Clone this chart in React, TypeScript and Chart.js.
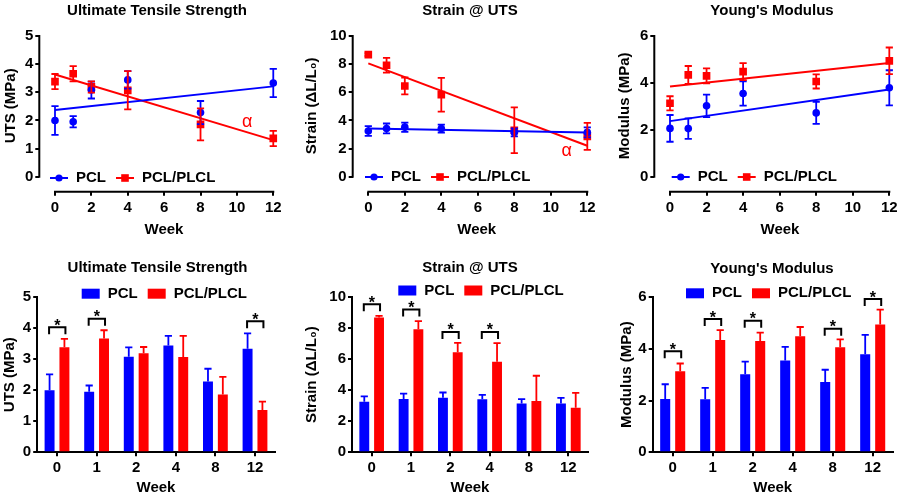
import React, { useEffect, useRef } from 'react';
import { Chart, registerables } from 'chart.js';

Chart.register(...registerables);

const FONT = "'Liberation Sans', Arial, Helvetica, sans-serif";
const BLUE = '#0000ff';
const RED = '#ff0000';

// ---------- data ----------
const weeks = [0, 1, 2, 4, 8, 12];
const weekLabels = ['0', '1', '2', '4', '8', '12'];
const weekTicks = [0, 2, 4, 6, 8, 10, 12];
const fitWeeks = [0, 12];
const seriesNames = ['PCL', 'PCL/PLCL'];

const utsTicks = [0, 1, 2, 3, 4, 5];
const utsPCL = [2.0, 1.95, 3.08, 3.44, 2.28, 3.33];
const utsPCLErr = [0.51, 0.2, 0.3, 0.31, 0.41, 0.5];
const utsBlend = [3.38, 3.66, 3.19, 3.07, 1.86, 1.36];
const utsBlendErr = [0.27, 0.27, 0.2, 0.68, 0.57, 0.27];
const utsFitPCL = [2.37, 3.21];
const utsFitBlend = [3.63, 1.3];
const utsSigIdx = [0, 1, 5];
const utsSigY = [4.03, 4.3, 4.22];

const strainTicks = [0, 2, 4, 6, 8, 10];
const strainPCL = [3.25, 3.43, 3.52, 3.42, 3.15, 3.15];
const strainPCLErr = [0.35, 0.35, 0.33, 0.28, 0.28, 0.35];
const strainBlend = [8.68, 7.92, 6.45, 5.83, 3.3, 2.87];
const strainBlendErr = [0.1, 0.53, 0.6, 1.2, 1.63, 0.96];
const strainFitPCL = [3.42, 3.15];
const strainFitBlend = [8.05, 2.2];
const strainSigIdx = [0, 1, 2, 3];
const strainSigY = [9.53, 9.19, 7.75, 7.75];

const modTicks = [0, 2, 4, 6];
const modPCL = [2.06, 2.05, 3.02, 3.55, 2.72, 3.79];
const modPCLErr = [0.57, 0.44, 0.48, 0.52, 0.47, 0.75];
const modBlend = [3.13, 4.34, 4.3, 4.48, 4.06, 4.94];
const modBlendErr = [0.3, 0.38, 0.32, 0.36, 0.3, 0.57];
const modFitPCL = [2.37, 3.72];
const modFitBlend = [3.85, 4.85];
const modSigIdx = [0, 1, 4, 5, 2];
const modSigY = [3.9, 5.15, 4.77, 5.92, 5.08];

// ---------- panels ----------
type Panel = {
  kind: 'line' | 'bar';
  cx: number; cy: number; w: number; h: number;
  pb: number; yw: number; rw: number; xh: number; ytp: number; ttp: number; ttb: number;
  xMin?: number; xMax?: number; yMin: number; yMax: number;
  title: string; yTitle: string; yTicks: number[];
  pcl: number[]; pclErr: number[]; blend: number[]; blendErr: number[];
  fitPCL?: number[]; fitBlend?: number[];
  sigIdx?: number[]; sigY?: number[];
  alpha?: { x: number; y: number };
  legX: number; legY: number;
};

const panels: Panel[] = [
  {
    kind: 'line', cx: 0, cy: 0, w: 314, h: 250, pb: 11, yw: 39.3, rw: 25.3, xh: 47.3, ytp: 2, ttp: 2, ttb: 0,
    xMin: -0.863, xMax: 12.848, yMin: -0.533, yMax: 5.569,
    title: 'Ultimate Tensile Strength', yTitle: 'UTS (MPa)', yTicks: utsTicks,
    pcl: utsPCL, pclErr: utsPCLErr, blend: utsBlend, blendErr: utsBlendErr,
    fitPCL: utsFitPCL, fitBlend: utsFitBlend, alpha: { x: 10.56, y: 1.94 },
    legX: 50, legY: 178,
  },
  {
    kind: 'line', cx: 300, cy: 0, w: 340, h: 250, pb: 11, yw: 52.7, rw: 39.3, xh: 47.3, ytp: 2.7, ttp: 2, ttb: 0,
    xMin: -0.855, xMax: 12.734, yMin: -1.066, yMax: 11.137,
    title: 'Strain @ UTS', yTitle: 'Strain (\u0394L/L\u2080)', yTicks: strainTicks,
    pcl: strainPCL, pclErr: strainPCLErr, blend: strainBlend, blendErr: strainBlendErr,
    fitPCL: strainFitPCL, fitBlend: strainFitBlend, alpha: { x: 10.87, y: 1.85 },
    legX: 365, legY: 177,
  },
  {
    kind: 'line', cx: 600, cy: 0, w: 344, h: 250, pb: 11, yw: 54.3, rw: 38.3, xh: 47.3, ytp: 16, ttp: 2, ttb: 0,
    xMin: -0.859, xMax: 12.897, yMin: -0.64, yMax: 6.682,
    title: "Young's Modulus", yTitle: 'Modulus (MPa)', yTicks: modTicks,
    pcl: modPCL, pclErr: modPCLErr, blend: modBlend, blendErr: modBlendErr,
    fitPCL: modFitPCL, fitBlend: modFitBlend,
    legX: 671.7, legY: 177,
  },
  {
    kind: 'bar', cx: 0, cy: 250, w: 315, h: 249, pb: 1.7, yw: 37.2, rw: 40.2, xh: 45, ytp: 1, ttp: 9, ttb: 20,
    yMin: 0, yMax: 5,
    title: 'Ultimate Tensile Strength', yTitle: 'UTS (MPa)', yTicks: utsTicks,
    pcl: utsPCL, pclErr: utsPCLErr, blend: utsBlend, blendErr: utsBlendErr,
    sigIdx: utsSigIdx, sigY: utsSigY,
    legX: 81.7, legY: 293.7,
  },
  {
    kind: 'bar', cx: 300, cy: 250, w: 340, h: 249, pb: 1.7, yw: 52, rw: 52, xh: 45, ytp: 2.7, ttp: 9, ttb: 20,
    yMin: 0, yMax: 10,
    title: 'Strain @ UTS', yTitle: 'Strain (\u0394L/L\u2080)', yTicks: strainTicks,
    pcl: strainPCL, pclErr: strainPCLErr, blend: strainBlend, blendErr: strainBlendErr,
    sigIdx: strainSigIdx, sigY: strainSigY,
    legX: 398.3, legY: 290.5,
  },
  {
    kind: 'bar', cx: 600, cy: 250, w: 344, h: 249, pb: 1.7, yw: 52.7, rw: 51.3, xh: 45, ytp: 17.7, ttp: 10, ttb: 19,
    yMin: 0, yMax: 6,
    title: "Young's Modulus", yTitle: 'Modulus (MPa)', yTicks: modTicks,
    pcl: modPCL, pclErr: modPCLErr, blend: modBlend, blendErr: modBlendErr,
    sigIdx: modSigIdx, sigY: modSigY,
    legX: 686, legY: 293.3,
  },
];

// ---------- config ----------
function buildConfig(p: Panel): any {
  const isBar = p.kind === 'bar';
  const tickFont = { family: FONT, size: 15, weight: 'bold' };
  const axisTitleFont = { family: FONT, size: 15, weight: 'bold' };
  const tickGrid = { display: true, drawOnChartArea: false, drawTicks: true, tickLength: 4, color: '#000', lineWidth: 2 };

  const errIdx = isBar ? [0, 1] : [2, 3];
  const errVals = [p.pclErr, p.blendErr];
  const meanVals = [p.pcl, p.blend];
  const colors = [BLUE, RED];

  const errorPlugin = {
    id: 'errbars',
    afterDatasetsDraw(chart: any) {
      const ctx = chart.ctx;
      const ys = chart.scales.y;
      const xs = chart.scales.x;
      ctx.save();
      ctx.lineWidth = 1.8;
      errIdx.forEach((di, k) => {
        const meta = chart.getDatasetMeta(di);
        ctx.strokeStyle = colors[k];
        meta.data.forEach((el: any, i: number) => {
          const m = meanVals[k][i];
          const e = errVals[k][i];
          const x = isBar ? el.x : xs.getPixelForValue(weeks[i]);
          const yTop = ys.getPixelForValue(m + e);
          const yBot = isBar ? ys.getPixelForValue(m) : ys.getPixelForValue(m - e);
          const cap = 3.6;
          ctx.beginPath();
          ctx.moveTo(x, yBot);
          ctx.lineTo(x, yTop);
          ctx.moveTo(x - cap, yTop);
          ctx.lineTo(x + cap, yTop);
          if (!isBar) {
            ctx.moveTo(x - cap, yBot);
            ctx.lineTo(x + cap, yBot);
          }
          ctx.stroke();
        });
      });
      ctx.restore();
    },
  };

  const decoPlugin = {
    id: 'deco',
    afterDraw(chart: any) {
      const ctx = chart.ctx;
      const ca = chart.chartArea;
      const xs = chart.scales.x;
      const ys = chart.scales.y;
      ctx.save();
      // detached axes for the line panels
      if (!isBar) {
        ctx.strokeStyle = '#000';
        ctx.lineWidth = 2;
        ctx.beginPath();
        ctx.moveTo(ca.left, ys.getPixelForValue(0) + 1);
        ctx.lineTo(ca.left, ys.getPixelForValue(p.yTicks[p.yTicks.length - 1]) - 1);
        ctx.moveTo(xs.getPixelForValue(weekTicks[0]) - 1, ca.bottom);
        ctx.lineTo(xs.getPixelForValue(weekTicks[weekTicks.length - 1]) + 1, ca.bottom);
        ctx.stroke();
        if (p.alpha) {
          ctx.fillStyle = RED;
          ctx.font = `18px ${FONT}`;
          ctx.textAlign = 'center';
          ctx.textBaseline = 'middle';
          ctx.fillText('\u03b1', xs.getPixelForValue(p.alpha.x), ys.getPixelForValue(p.alpha.y));
        }
      }
      // significance brackets
      if (isBar && p.sigIdx && p.sigY) {
        const m0 = chart.getDatasetMeta(0);
        const m1 = chart.getDatasetMeta(1);
        ctx.strokeStyle = '#000';
        ctx.fillStyle = '#000';
        ctx.lineWidth = 2;
        ctx.font = `bold 16px ${FONT}`;
        ctx.textAlign = 'center';
        ctx.textBaseline = 'alphabetic';
        p.sigIdx.forEach((idx, k) => {
          const x1 = m0.data[idx].x - 0.5;
          const x2 = m1.data[idx].x + 1;
          const y = ys.getPixelForValue(p.sigY![k]);
          ctx.beginPath();
          ctx.moveTo(x1, y + 7);
          ctx.lineTo(x1, y);
          ctx.lineTo(x2, y);
          ctx.lineTo(x2, y + 7);
          ctx.stroke();
          ctx.fillText('*', (x1 + x2) / 2, y + 3.5);
        });
      }
      // legend
      let x = p.legX - p.cx;
      const y = p.legY - p.cy;
      ctx.font = `bold 15px ${FONT}`;
      ctx.textAlign = 'left';
      ctx.textBaseline = 'middle';
      seriesNames.forEach((name, k) => {
        ctx.fillStyle = colors[k];
        ctx.strokeStyle = colors[k];
        if (isBar) {
          ctx.fillRect(x, y - 5, 18, 10);
        } else {
          ctx.lineWidth = 2;
          ctx.beginPath();
          ctx.moveTo(x, y);
          ctx.lineTo(x + 18, y);
          ctx.stroke();
          if (k === 0) {
            ctx.beginPath();
            ctx.arc(x + 9, y, 3.6, 0, Math.PI * 2);
            ctx.fill();
          } else {
            ctx.fillRect(x + 5.2, y - 3.8, 7.6, 7.6);
          }
        }
        x += 18 + 8;
        ctx.fillStyle = '#000';
        ctx.fillText(name, x, y);
        x += ctx.measureText(name).width + 10;
      });
      ctx.restore();
    },
  };

  const yScale: any = {
    type: 'linear',
    min: p.yMin,
    max: p.yMax,
    afterBuildTicks: (s: any) => { s.ticks = p.yTicks.map((v) => ({ value: v })); },
    afterFit: (s: any) => { s.width = p.yw; },
    grid: tickGrid,
    border: isBar ? { display: true, color: '#000', width: 2 } : { display: false },
    ticks: { font: tickFont, color: '#000', padding: 2 },
    title: { display: true, text: p.yTitle, font: axisTitleFont, color: '#000', padding: { top: p.ytp, bottom: 0 } },
  };
  const xScale: any = isBar
    ? {
        type: 'category',
        afterFit: (s: any) => { s.height = p.xh; },
        grid: { ...tickGrid, offset: false },
        border: { display: true, color: '#000', width: 2 },
        ticks: { font: tickFont, color: '#000', padding: 3, autoSkip: false, maxRotation: 0 },
        title: { display: true, text: 'Week', font: axisTitleFont, color: '#000', padding: { top: 0, bottom: 0 } },
      }
    : {
        type: 'linear',
        min: p.xMin,
        max: p.xMax,
        afterBuildTicks: (s: any) => { s.ticks = weekTicks.map((v) => ({ value: v })); },
        afterFit: (s: any) => { s.height = p.xh; },
        grid: tickGrid,
        border: { display: false },
        ticks: { font: tickFont, color: '#000', padding: 3, autoSkip: false, maxRotation: 0 },
        title: { display: true, text: 'Week', font: axisTitleFont, color: '#000', padding: { top: 0, bottom: 0 } },
      };
  const spacer: any = {
    type: 'linear', position: 'right', display: true, min: 0, max: 1,
    grid: { display: false }, border: { display: false }, ticks: { display: false },
    afterFit: (s: any) => { s.width = p.rw; },
  };

  let data: any;
  if (isBar) {
    data = {
      labels: weekLabels,
      datasets: [
        { label: seriesNames[0], data: p.pcl, backgroundColor: BLUE, borderWidth: 0, categoryPercentage: 0.75, barPercentage: 0.67 },
        { label: seriesNames[1], data: p.blend, backgroundColor: RED, borderWidth: 0, categoryPercentage: 0.75, barPercentage: 0.67 },
      ],
    };
  } else {
    data = {
      datasets: [
        { label: 'fitPCL', data: fitWeeks.map((w, i) => ({ x: w, y: p.fitPCL![i] })), borderColor: BLUE, borderWidth: 2, pointRadius: 0, showLine: true, fill: false },
        { label: 'fitBlend', data: fitWeeks.map((w, i) => ({ x: w, y: p.fitBlend![i] })), borderColor: RED, borderWidth: 2, pointRadius: 0, showLine: true, fill: false },
        { label: seriesNames[0], data: weeks.map((w, i) => ({ x: w, y: p.pcl[i] })), showLine: false, pointStyle: 'circle', pointRadius: 3.8, backgroundColor: BLUE, borderColor: BLUE, borderWidth: 0 },
        { label: seriesNames[1], data: weeks.map((w, i) => ({ x: w, y: p.blend[i] })), showLine: false, pointStyle: 'rect', pointRadius: 5.4, backgroundColor: RED, borderColor: RED, borderWidth: 0 },
      ],
    };
  }

  return {
    type: isBar ? 'bar' : 'line',
    data,
    options: {
      responsive: false,
      animation: false,
      devicePixelRatio: 1,
      layout: { padding: { left: 0, right: 0, top: 0, bottom: p.pb } },
      scales: { x: xScale, y: yScale, yR: spacer },
      plugins: {
        legend: { display: false },
        tooltip: { enabled: false },
        title: {
          display: true,
          text: p.title,
          color: '#000',
          font: { family: FONT, size: 15, weight: 'bold' },
          padding: { top: p.ttp, bottom: p.ttb },
        },
      },
    },
    plugins: [errorPlugin, decoPlugin],
  };
}

function PanelChart({ p }: { p: Panel }) {
  const ref = useRef<HTMLCanvasElement>(null);
  useEffect(() => {
    const chart = new Chart(ref.current as HTMLCanvasElement, buildConfig(p));
    return () => chart.destroy();
  }, [p]);
  return (
    <canvas
      ref={ref}
      width={p.w}
      height={p.h}
      style={{ position: 'absolute', left: p.cx, top: p.cy, width: p.w, height: p.h }}
    />
  );
}

export default function App() {
  Chart.defaults.font.family = FONT;
  Chart.defaults.color = '#000';
  return (
    <div style={{ position: 'absolute', left: 0, top: 0, width: 903, height: 499, overflow: 'hidden', background: '#fff' }}>
      {panels.map((p, i) => (
        <PanelChart key={i} p={p} />
      ))}
    </div>
  );
}
